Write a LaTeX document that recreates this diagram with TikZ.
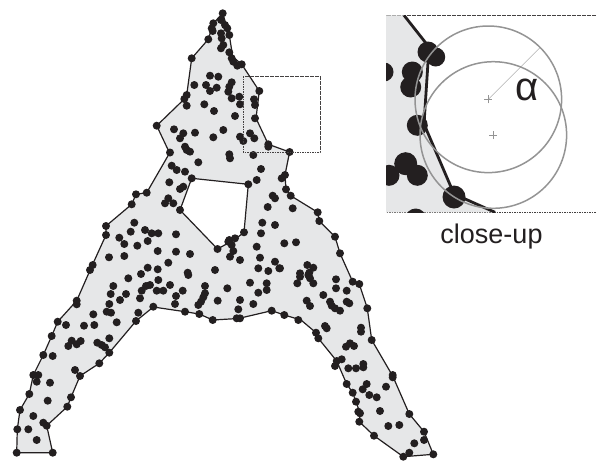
\documentclass[tikz,border=0pt]{standalone}
\usepackage{fontspec}
\setmainfont{Liberation Sans}
\usetikzlibrary{positioning}
\definecolor{shapegray}{HTML}{E6E7E8}
\definecolor{ink}{HTML}{231F20}

\begin{document}
\begin{tikzpicture}[x=1pt, y=-1pt,
  outline/.style={draw=ink, line width=1.2pt, line join=round},
  dot/.style={fill=ink},
  blob/.style={fill=ink},
  frame/.style={draw=ink!85, line width=0.6pt, dash pattern=on 1.6pt off 0.9pt},
  ring/.style={draw=black!42, line width=1.5pt},
  hair/.style={draw=black!42, line width=0.5pt}]
\useasboundingbox (0,0) rectangle (596,461);

% the point cloud shape with its hole
\path[fill=shapegray, outline, even odd rule]
  (222.7,13.3) -- (229.3,35) -- (232.7,56.7) -- (241.7,64.3) -- (259.3,91) -- (256,118.3)
  -- (268.3,144.3) -- (289.6,152) -- (285,175) -- (286,189.3) -- (290.7,195.7) -- (317.7,212.3)
  -- (319.3,221) -- (335,236.7) -- (340,253.3) -- (352.7,281.7) -- (359.3,284) -- (367.3,308.3)
  -- (371.7,340) -- (392.7,376) -- (409.3,414) -- (424,431.7) -- (433.3,454.3) -- (403.3,456.7)
  -- (374,435.7) -- (359.3,421.7) -- (360,413.3) -- (356,401.7) -- (352.7,392.7) -- (346.7,384)
  -- (336.7,361) -- (318.3,338.3) -- (316,332.7) -- (301,320) -- (284.3,315) -- (271.7,310.7)
  -- (238.3,318.5) -- (212.7,320) -- (199.3,314) -- (185,311.7) -- (153.3,307) -- (136,321)
  -- (109.3,352.7) -- (99.3,363.3) -- (80,376) -- (71,397.3) -- (67.3,406.7) -- (46.7,425.7)
  -- (52.7,452.7) -- (16.7,452.7) -- (17.3,429.3) -- (20,410) -- (29.3,394) -- (33.3,375)
  -- (43.3,355) -- (51.7,336) -- (57.7,321.7) -- (76.7,300.7) -- (92.2,265.3) -- (106,235)
  -- (106,226) -- (131.7,204.3) -- (136,194.3) -- (146.7,192.7) -- (169.6,153) -- (156.7,125.7)
  -- (184.3,99) -- (186.7,95) -- (191.7,58.3) -- (208.3,39.3) -- (213.3,23.3) -- cycle
  (191.7,178.3) -- (248.3,184.3) -- (244,232.3) -- (235,239.3) -- (217.5,249) -- (180,210) -- cycle;

% samples
\foreach \x/\y in {
  222.7/13.3, 221/20, 213.3/23.3, 211.7/28.3, 225/25, 227.3/28.3, 221/33.3, 212.7/31, 229.3/35,
  221.7/38.3, 208.3/39.3, 223.3/45, 221/48.3, 229.3/52.3, 191.7/58.3, 231.7/58.3, 233.3/61.7,
  237.3/65.7, 241.7/64.3, 210/75.7, 218.3/76.7, 194.3/85, 206/85, 210/91, 216.7/87.7, 231.7/82.3,
  229.3/86.7, 228.3/91.7, 259.3/91, 186.7/95, 184.3/99, 231.7/98.3, 239.3/96.7, 254/99.3, 255/105,
  186.7/105.7, 240/104.3, 204.3/104.3, 214/111, 235/116, 255/118.3, 156.7/125.7, 174/129.3,
  183.3/133.3, 180/138.3, 195/132.7, 223.3/130, 213.3/137.3, 240/136.7, 243.3/141, 250/133.3,
  254.3/138.3, 268.3/144.3, 289.6/152, 185/146.7, 190/151.7, 170/152.5, 229.3/154.3,
  186.7/150, 198.3/162.3, 171.7/165.7, 176.7/170, 185/171.7, 191.7/178.3, 169.3/182.3, 180/189,
  183.3/186.7, 136/194.3, 146.7/192.7, 131.7/204.3, 168.3/198.3, 165/203.3, 173.3/203.3, 180/210,
  106/226, 106/235, 134.3/222.7, 145/230, 151.7/233.3, 158.3/233.3, 130.7/231.7, 119.3/237.7,
  124.3/244, 137.3/245.7, 147.7/241, 176/234.3, 109/257.3, 124.3/256, 157.7/251, 176/251.7,
  190/254, 217.5/249, 228.3/241.7, 168.3/262.7, 147.7/267.7, 157.7/269.3, 215/270, 141/274,
  187.7/272.7,
  268.3/146.7, 230/158.3, 253.3/155, 261/169, 285/175, 281.7/178.3, 256.7/180, 248.3/184.3,
  286/189.3, 290.7/195.7, 272.7/195.7, 275/198.3, 267.7/207, 292.7/208.3, 317.7/212.3, 319.3/221,
  262.3/222.7, 275/225, 261/233.3, 244/232.3, 335/236.7, 235/238.3, 229.3/240, 231.7/245,
  233.3/251, 256.7/246.7, 284.3/243.3, 296/242.3, 340/253.3, 230/256.7, 240/260, 260/257.7,
  275/261.7, 258.3/268.3, 268.3/271, 279.3/268.3, 307.3/265, 313.3/267.7, 300/273.3, 309.3/272.7,
  188.3/275, 158.3/280, 250/282.7, 266.7/283.3, 297.3/283.3, 170/285, 205/286, 227.3/288.3,
  163.3/290.7, 182.7/290.7, 205/293.3, 258.3/292.7, 266.7/290, 176/296, 203.3/297.3, 201/301.7,
  198.3/305, 217.7/300.7, 240/300, 253.3/304, 175/304, 185/311.7, 199.3/314, 238.3/309.3,
  271.7/310.7, 284.3/315, 212.7/320, 236.7/318.3, 240/318.3, 298.3/320,
  92.7/265, 90/270, 128.3/278.3, 113.3/286, 110.7/294, 126/294, 120/300, 146/286, 150/285,
  156.7/290.7, 141.7/290.7, 140/298.3, 76.7/300.7, 76.7/304.3, 109.3/304, 106.7/311.7, 111/312.7,
  93.3/314.3, 138.3/312.7, 153.3/306.7, 116.7/322.3, 136/321, 57.7/321.7, 66/325, 84/325.7,
  94.3/325, 51.7/336, 71.7/340.7, 68.3/346, 80.7/341, 76.7/344.3, 97.3/342.7, 101.7/345,
  105/347.3, 109.3/338.3, 109.3/352.7, 43.3/355, 52.7/356, 99.3/363.3, 75/370, 80/376, 33.3/375,
  38.3/375, 36.7/381.7, 50/382.7, 29.3/394, 71/397.3, 47.7/400.7, 67.3/406.7, 20/410, 33.3/416,
  43.3/422.7, 46.7/425.7, 17.3/429.3, 28.3/429.3, 36.7/440, 16.7/452.7, 52.7/452.7,
  280/268.3, 300/276.7, 308.3/275, 313.3/283.3, 310/278.3, 336/279.3, 336/288.3, 346.7/290.7,
  352.7/281.7, 359.3/284, 323.3/295, 306.7/300.7, 310/306, 330/301.7, 331.7/305.7, 340/310.7,
  335/308.3, 346.7/301.7, 349.3/303.3, 367.3/308.3, 325/326, 326.7/328.3, 316/332.7, 318.3/338.3,
  361/327.7, 361/331.7, 371.7/340, 350/343.3, 346/346.7, 354/346, 341.7/359.3, 336.7/361,
  335/366, 348.3/368.3, 356/368.3, 363.3/364, 363.3/367.3, 392.7/375, 392.7/377.3, 366.7/384,
  362.7/389.3, 369.3/395, 376.7/397.3, 386/386.7, 346.7/384, 352.7/392.7, 356/401.7, 358.3/411.7,
  360/413.3, 380/411, 409.3/414, 359.3/421.7, 388.3/426, 399.3/425, 374/435.7, 424/431.7,
  424/440, 414.3/443.3, 409.3/452.7, 403.3/456.7, 433.3/454.3}
  \fill[dot] (\x,\y) circle (4pt);

% region that is shown enlarged
\draw[frame] (243,76) rectangle (320,152);

% close-up
\draw[frame] (596,15.3) -- (386,15.3) -- (386,212.3) -- (596,212.3);
\begin{scope}
  \clip (386,15.3) rectangle (596,212.3);
  \fill[shapegray] (386,15.3) -- (404,15.3) -- (429,47) -- (424,124) -- (454,194) -- (495,212.3)
    -- (386,212.3) -- cycle;
  \foreach \x/\y/\r in {428/52/10.5, 435.7/57/9.5, 384/72/9.5, 412.3/72/10.5, 410.7/87/10.5,
      417.3/125.3/10.5, 405.7/163.7/11.5, 417.3/175.3/10.5, 389/175.3/10.5, 454/197/11.5, 415.7/219/10.5}
    \fill[blob] (\x,\y) circle (\r pt);
  \draw[ink, line width=2.8pt, line join=round]
    (404,15.3) -- (429,47) -- (424,124) -- (454,194) -- (495,212.3);
\end{scope}
\coordinate (c1) at (488.3,99.3);
\coordinate (c2) at (493.3,135);
\draw[ring] (c1) circle (73.3pt);
\draw[ring] (c2) circle (73.3pt);
\draw[hair] (c1) -- ++(45:73.3pt) coordinate (rim);
\foreach \c in {c1,c2}
  \draw[hair] ([xshift=-4pt]\c) -- ([xshift=4pt]\c) ([yshift=-4pt]\c) -- ([yshift=4pt]\c);
\node[anchor=base, inner sep=0pt, text=ink, font=\fontsize{40}{44}\selectfont] (alpha) at (527,100) {α};
\node[anchor=base, inner sep=0pt, text=ink, font=\fontsize{27}{32}\selectfont] (caption) at (491.5,243.5) {close-up};
\end{tikzpicture}
\end{document}
